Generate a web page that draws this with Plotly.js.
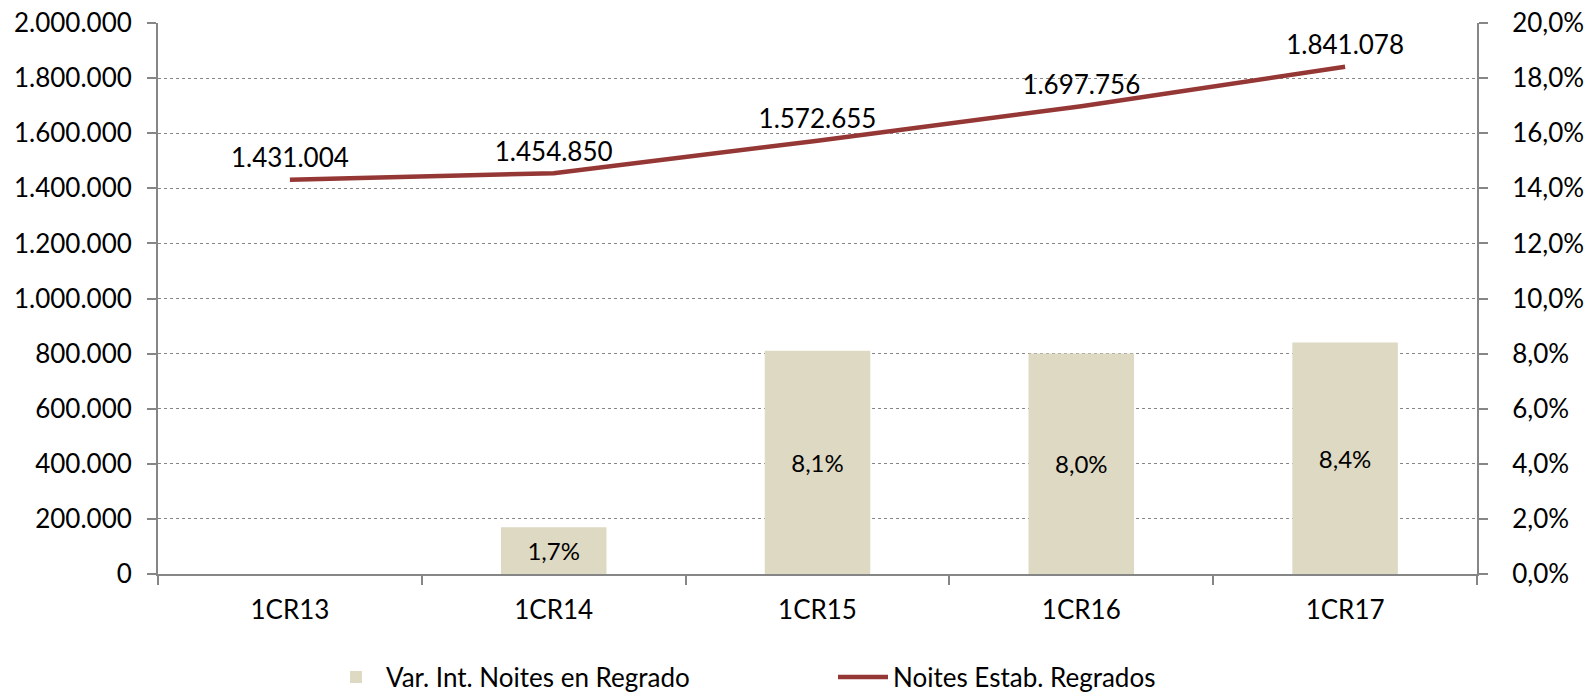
<!DOCTYPE html>
<html>
<head>
<meta charset="utf-8">
<script src="https://cdn.plot.ly/plotly-3.0.1.min.js"></script>
<style>html,body{margin:0;padding:0;background:#fff;}#chart{width:1591px;height:697px;}</style>
</head>
<body>
<div id="chart"></div>
<script>
const categories = ["1CR13", "1CR14", "1CR15", "1CR16", "1CR17"];
const nightsRegrado = [1431004, 1454850, 1572655, 1697756, 1841078];
const varInterannual = [null, 0.017, 0.081, 0.080, 0.084];
const leftTicks = [0, 200000, 400000, 600000, 800000, 1000000, 1200000, 1400000, 1600000, 1800000, 2000000];
const rightTicks = [0, 0.02, 0.04, 0.06, 0.08, 0.10, 0.12, 0.14, 0.16, 0.18, 0.20];

const FONT = "Lato, 'Liberation Sans', sans-serif";
const axisGrey = "#868686";

const barTrace = {
  type: "bar",
  name: "Var. Int. Noites en Regrado",
  x: categories,
  y: varInterannual,
  yaxis: "y2",
  marker: {color: "#DDD9C3"},
  texttemplate: "%{y:.1%}",
  textposition: "inside",
  insidetextanchor: "middle",
  textangle: 0,
  textfont: {family: FONT, size: 24, color: "#000"},
  hoverinfo: "x+y"
};

const lineTrace = {
  type: "scatter",
  mode: "lines+markers+text",
  name: "Noites Estab. Regrados",
  x: categories,
  y: nightsRegrado,
  yaxis: "y",
  line: {color: "#953735", width: 4.5},
  marker: {size: 8, color: "rgba(0,0,0,0)", line: {width: 0}},
  texttemplate: "%{y:,d}",
  textposition: "top center",
  textfont: {family: FONT, size: 26, color: "#000"},
  cliponaxis: false
};

const layout = {
  width: 1591,
  height: 697,
  margin: {l: 158, r: 114, t: 23, b: 123},
  paper_bgcolor: "#fff",
  plot_bgcolor: "#fff",
  separators: ",.",
  font: {family: FONT, size: 26, color: "#000"},
  bargap: 0.6,
  showlegend: true,
  xaxis: {
    type: "category",
    showline: true,
    linecolor: axisGrey,
    linewidth: 2,
    ticks: "outside",
    tickson: "boundaries",
    ticklen: 9,
    tickcolor: axisGrey,
    tickwidth: 2,
    ticklabelstandoff: 12,
    showgrid: false,
    tickfont: {family: FONT, size: 26, color: "#000"},
    zeroline: false
  },
  yaxis: {
    range: [0, 2000000],
    tickvals: leftTicks,
    tickformat: ",d",
    showline: true,
    linecolor: axisGrey,
    linewidth: 2,
    ticks: "outside",
    ticklen: 9,
    tickcolor: axisGrey,
    tickwidth: 2,
    ticklabelstandoff: 10,
    showgrid: true,
    gridcolor: axisGrey,
    gridwidth: 1,
    griddash: "dot",
    zeroline: false,
    tickfont: {family: FONT, size: 26, color: "#000"}
  },
  yaxis2: {
    overlaying: "y",
    side: "right",
    range: [0, 0.20],
    tickvals: rightTicks,
    tickformat: ".1%",
    showline: true,
    linecolor: axisGrey,
    linewidth: 2,
    ticks: "outside",
    ticklen: 9,
    tickcolor: axisGrey,
    tickwidth: 2,
    ticklabelstandoff: 19,
    showgrid: false,
    zeroline: false,
    tickfont: {family: FONT, size: 26, color: "#000"}
  },
  legend: {
    orientation: "h",
    xref: "container",
    yref: "container",
    x: 326 / 1591,
    xanchor: "left",
    y: 1 - 677 / 697,
    yanchor: "middle",
    entrywidth: 442,
    entrywidthmode: "pixels",
    itemwidth: 50,
    font: {family: FONT, size: 26, color: "#000"},
    bgcolor: "rgba(0,0,0,0)",
    borderwidth: 0
  }
};

Plotly.newPlot("chart", [barTrace, lineTrace], layout, {displayModeBar: false, staticPlot: true});
</script>
</body>
</html>
